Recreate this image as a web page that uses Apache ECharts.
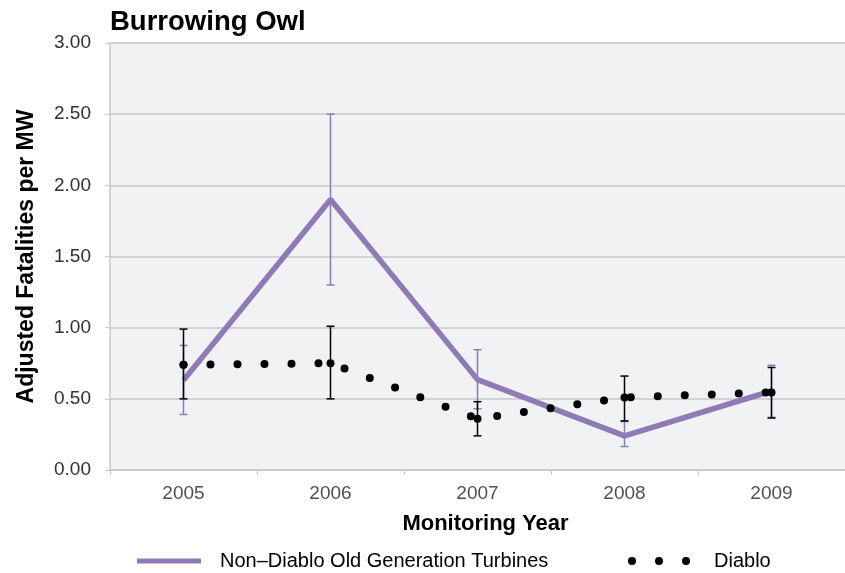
<!DOCTYPE html>
<html>
<head>
<meta charset="utf-8">
<script src="https://cdn.jsdelivr.net/npm/echarts@6/dist/echarts.min.js"></script>
<style>
  html, body { margin: 0; padding: 0; background: #fff; }
  #chart { width: 845px; height: 573px; }
</style>
</head>
<body>
<div id="chart"></div>
<script>
const years = ['2005', '2006', '2007', '2008', '2009'];
const yTicks = [0, 0.5, 1, 1.5, 2, 2.5, 3];

// Non-Diablo old generation turbines
const nonDiablo = [0.63, 1.90, 0.635, 0.24, 0.555];
const nonDiabloLow = [0.39, 1.30, 0.43, 0.165, 0.37];
const nonDiabloHigh = [0.875, 2.50, 0.845, 0.34, 0.735];

// Diablo
const diablo = [0.74, 0.75, 0.36, 0.51, 0.545];
const diabloLow = [0.50, 0.50, 0.24, 0.345, 0.365];
const diabloHigh = [0.99, 1.01, 0.48, 0.66, 0.72];

const purple = '#8e7bb5';
const font = '"Liberation Sans", Arial, sans-serif';

function errorBar(color) {
    return function (params, api) {
        let lo = api.coord([api.value(0), api.value(1)]);
        let hi = api.coord([api.value(0), api.value(2)]);
        let half = 4;
        let style = { stroke: color, lineWidth: 1.5 };
        return {
            type: 'group',
            children: [
                { type: 'line', shape: { x1: lo[0], y1: lo[1], x2: hi[0], y2: hi[1] }, style },
                { type: 'line', shape: { x1: lo[0] - half, y1: lo[1], x2: lo[0] + half, y2: lo[1] }, style },
                { type: 'line', shape: { x1: hi[0] - half, y1: hi[1], x2: hi[0] + half, y2: hi[1] }, style }
            ]
        };
    };
}

const chart = echarts.init(document.getElementById('chart'));

chart.setOption({
    animation: false,
    title: {
        text: 'Burrowing Owl',
        left: 110,
        top: 8,
        padding: 0,
        textStyle: { fontFamily: font, fontSize: 27.5, fontWeight: 'bold', color: '#000' }
    },
    legend: [{
        data: [{ name: 'Non–Diablo Old Generation Turbines', icon: 'rect' }],
        left: 132,
        top: 546,
        itemWidth: 64,
        itemHeight: 5,
        textStyle: { fontFamily: font, fontSize: 20, color: '#000', padding: [0, 0, 0, 14] }
    }, {
        data: [{
            name: 'Diablo',
            icon: 'path://M0,4a4,4 0 1,0 8,0a4,4 0 1,0 -8,0M27,4a4,4 0 1,0 8,0a4,4 0 1,0 -8,0M54,4a4,4 0 1,0 8,0a4,4 0 1,0 -8,0'
        }],
        left: 623,
        top: 546,
        itemWidth: 62,
        itemHeight: 8,
        textStyle: { fontFamily: font, fontSize: 20, color: '#000', padding: [0, 0, 0, 19] }
    }],
    grid: {
        left: 110,
        right: -2,
        top: 43,
        bottom: 103,
        show: true,
        backgroundColor: '#f1f2f4',
        borderWidth: 0
    },
    xAxis: {
        type: 'category',
        data: years,
        boundaryGap: true,
        name: 'Monitoring Year',
        nameLocation: 'middle',
        nameGap: 43,
        nameTextStyle: { fontFamily: font, fontSize: 22, fontWeight: 'bold', color: '#000', padding: [0, 0, 0, 16] },
        axisLine: { lineStyle: { color: '#c8c8cc', width: 1.5 } },
        axisTick: { show: true, length: 5, lineStyle: { color: '#c8c8cc' } },
        axisLabel: { fontFamily: font, fontSize: 19, color: '#505050', margin: 14 }
    },
    yAxis: {
        type: 'value',
        min: 0,
        max: 3,
        interval: 0.5,
        name: 'Adjusted Fatalities per MW',
        nameLocation: 'middle',
        nameGap: 72,
        nameTextStyle: { fontFamily: font, fontSize: 23, fontWeight: 'bold', color: '#000' },
        axisLine: { show: true, lineStyle: { color: '#c8c8cc', width: 1.5 } },
        axisTick: { show: true, length: 5, lineStyle: { color: '#c8c8cc' } },
        axisLabel: {
            fontFamily: font, fontSize: 19, color: '#303030', margin: 19,
            formatter: v => yTicks.includes(v) ? v.toFixed(2) : ''
        },
        splitLine: { lineStyle: { color: '#d2d2d6', width: 2 } }
    },
    series: [{
        name: 'Non–Diablo Old Generation Turbines',
        type: 'line',
        data: nonDiablo,
        z: 2,
        symbol: 'none',
        itemStyle: { color: purple },
        lineStyle: { color: purple, width: 5.5 }
    }, {
        type: 'custom',
        z: 3,
        renderItem: errorBar(purple),
        encode: { x: 0, y: [1, 2] },
        data: years.map((y, i) => [i, nonDiabloLow[i], nonDiabloHigh[i]])
    }, {
        name: 'Diablo',
        type: 'line',
        data: diablo,
        z: 4,
        symbol: 'circle',
        symbolSize: 8,
        showSymbol: true,
        itemStyle: { color: '#000' },
        lineStyle: { color: '#000', width: 8, type: [0, 27], cap: 'round' }
    }, {
        type: 'custom',
        z: 5,
        renderItem: errorBar('#000'),
        encode: { x: 0, y: [1, 2] },
        data: years.map((y, i) => [i, diabloLow[i], diabloHigh[i]])
    }]
});
</script>
</body>
</html>
